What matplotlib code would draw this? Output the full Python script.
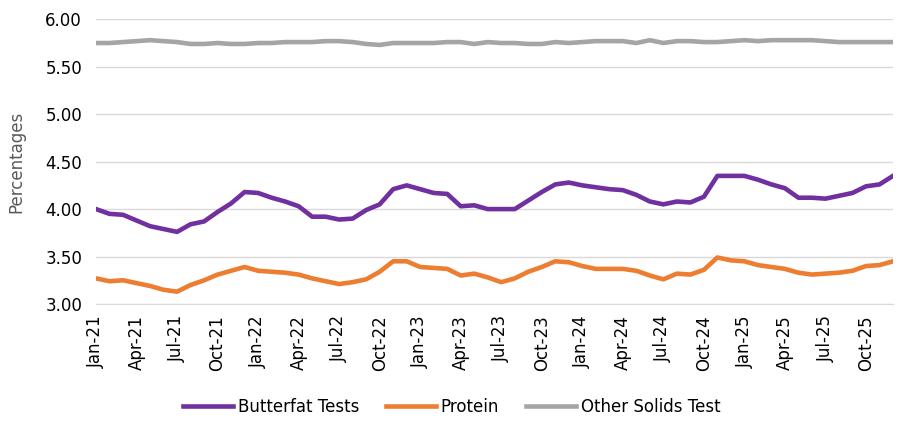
import matplotlib
matplotlib.use("Agg")
import matplotlib.pyplot as plt
import pandas as pd

months = pd.date_range("2021-01-01", "2025-12-01", freq="MS")
month_labels = [d.strftime("%b-%y") for d in months]

butterfat = [4.00, 3.95, 3.94, 3.88, 3.82, 3.79, 3.76, 3.84, 3.87, 3.97,
             4.06, 4.18, 4.17, 4.12, 4.08, 4.03, 3.92, 3.92, 3.89, 3.90,
             3.99, 4.05, 4.21, 4.25, 4.21, 4.17, 4.16, 4.03, 4.04, 4.00,
             4.00, 4.00, 4.09, 4.18, 4.26, 4.28, 4.25, 4.23, 4.21, 4.20,
             4.15, 4.08, 4.05, 4.08, 4.07, 4.13, 4.35, 4.35, 4.35, 4.31,
             4.26, 4.22, 4.12, 4.12, 4.11, 4.14, 4.17, 4.24, 4.26, 4.35]

protein = [3.27, 3.24, 3.25, 3.22, 3.19, 3.15, 3.13, 3.20, 3.25, 3.31,
           3.35, 3.39, 3.35, 3.34, 3.33, 3.31, 3.27, 3.24, 3.21, 3.23,
           3.26, 3.34, 3.45, 3.45, 3.39, 3.38, 3.37, 3.30, 3.32, 3.28,
           3.23, 3.27, 3.34, 3.39, 3.45, 3.44, 3.40, 3.37, 3.37, 3.37,
           3.35, 3.30, 3.26, 3.32, 3.31, 3.36, 3.49, 3.46, 3.45, 3.41,
           3.39, 3.37, 3.33, 3.31, 3.32, 3.33, 3.35, 3.40, 3.41, 3.45]

other_solids = [5.75, 5.75, 5.76, 5.77, 5.78, 5.77, 5.76, 5.74, 5.74, 5.75,
                5.74, 5.74, 5.75, 5.75, 5.76, 5.76, 5.76, 5.77, 5.77, 5.76,
                5.74, 5.73, 5.75, 5.75, 5.75, 5.75, 5.76, 5.76, 5.74, 5.76,
                5.75, 5.75, 5.74, 5.74, 5.76, 5.75, 5.76, 5.77, 5.77, 5.77,
                5.75, 5.78, 5.75, 5.77, 5.77, 5.76, 5.76, 5.77, 5.78, 5.77,
                5.78, 5.78, 5.78, 5.78, 5.77, 5.76, 5.76, 5.76, 5.76, 5.76]

series_names = ["Butterfat Tests", "Protein", "Other Solids Test"]
colors = ["#7030A0", "#ED7D31", "#A5A5A5"]
y_ticks = [3.00, 3.50, 4.00, 4.50, 5.00, 5.50, 6.00]

plt.rcParams["font.family"] = ["DejaVu Sans"]

fig = plt.figure(figsize=(9.03, 4.21), dpi=100)
ax = fig.add_axes([96 / 903, 1 - 304 / 421, (893 - 96) / 903, (304 - 19.3) / 421])

x = list(range(len(months)))
for vals, name, c in zip([butterfat, protein, other_solids], series_names, colors):
    ax.plot(x, vals, color=c, lw=3.3, label=name, solid_joinstyle="round")

ax.set_xlim(0, len(months) - 1)
ax.set_ylim(3.0, 6.0)
ax.set_yticks(y_ticks)
ax.set_yticklabels([f"{v:.2f}" for v in y_ticks], fontsize=12)
ax.set_xticks(x[::3])
ax.set_xticklabels(month_labels[::3], rotation=90, fontsize=12)
ax.tick_params(length=0, pad=8)
ax.tick_params(axis="y", pad=10)
ax.grid(axis="y", color="#D9D9D9", lw=1)
ax.set_axisbelow(True)
for s in ["top", "right", "left"]:
    ax.spines[s].set_visible(False)
ax.spines["bottom"].set_color("#D9D9D9")
ax.set_ylabel("Percentages", fontsize=12, color="#595959", labelpad=14)

leg = fig.legend(loc="center", bbox_to_anchor=(0.5, 1 - 407 / 421), ncol=3,
                 frameon=False, fontsize=12, handlelength=3.0, handletextpad=0.3,
                 columnspacing=1.6)

fig.savefig("out.png", dpi=100)
